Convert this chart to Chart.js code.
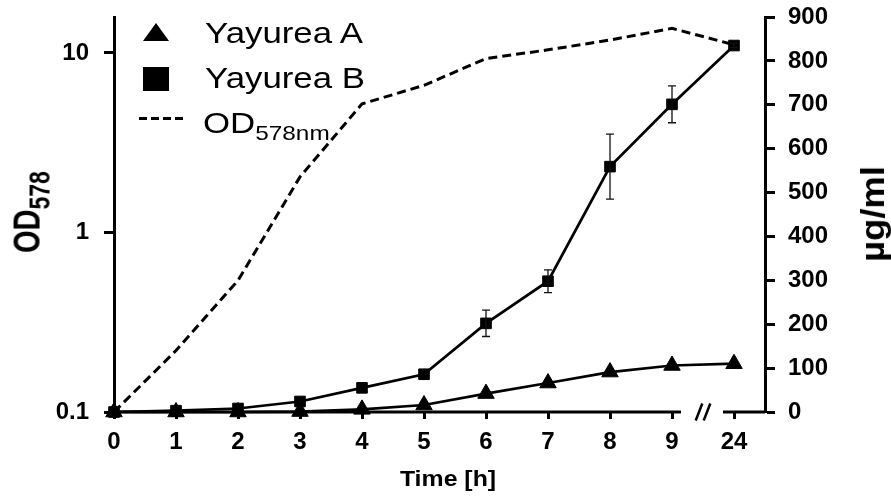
<!DOCTYPE html>
<html>
<head>
<meta charset="utf-8">
<script src="https://cdn.jsdelivr.net/npm/chart.js@4.4.1/dist/chart.umd.min.js"></script>
<style>
  html, body { margin: 0; padding: 0; background: #fff; }
  #wrap { position: relative; width: 891px; height: 497px; overflow: hidden; }
  #chart { position: absolute; left: 0; top: 0; }
  .ov { position: absolute; color: #000; font-family: "Liberation Sans", Arial, sans-serif; white-space: nowrap; line-height: 1; }
  .leg { font-size: 30px; transform: scaleX(1.16); transform-origin: left top; }
  .leg sub { font-size: 21px; vertical-align: -7px; line-height: 0; }
  .tri { position: absolute; width: 0; height: 0; border-left: 13.5px solid transparent; border-right: 13.5px solid transparent; border-bottom: 18px solid #000; }
  .sq { position: absolute; background: #000; }
  .dash { position: absolute; height: 3px; background: repeating-linear-gradient(to right, #000 0 8px, transparent 8px 12px); }
  .ttl { font-weight: bold; }
  .ttl sub { line-height: 0; }
</style>
</head>
<body>
<div id="wrap">
  <canvas id="chart" width="891" height="497"></canvas>

  <!-- legende -->
  <div class="tri" style="left:143px; top:23px;"></div>
  <div class="sq" style="left:143px; top:67px; width:26px; height:24px;"></div>
  <div class="dash" style="left:139px; top:117px; width:44px;"></div>
  <div class="ov leg" style="left:205px; top:18px;">Yayurea A</div>
  <div class="ov leg" style="left:205px; top:63px;">Yayurea B</div>
  <div class="ov leg" style="left:203px; top:108px;">OD<sub>578nm</sub></div>

  <!-- titres d'axes -->
  <div class="ov ttl" id="t-left" style="left:27px; top:212px; font-size:29px; transform: translate(-50%,-50%) rotate(-90deg) scaleY(1.3);">OD<sub style="font-size:23px; vertical-align:-8px;">578</sub></div>
  <div class="ov ttl" id="t-right" style="left:872px; top:214px; font-size:34px; transform: translate(-50%,-50%) rotate(-90deg) scaleX(1.07);">µg/ml</div>
  <div class="ov ttl" id="t-bottom" style="left:448px; top:468px; font-size:22px; transform: translateX(-50%) scaleX(1.13);">Time [h]</div>
</div>

<script>
// valeurs
const timeLabels = ["0", "1", "2", "3", "4", "5", "6", "7", "8", "9", "24"];
const yayureaA = [0, 0, 0, 1, 6, 16, 42, 66, 91, 106, 110];
const yayureaB = [0, 3, 8, 24, 55, 86, 202, 298, 559, 701, 835];
const yayureaBErr = [0, 0, 0, 0, 0, 0, 30, 26, 74, 42, 5];
const od578 = [0.1, 0.22, 0.54, 2.04, 5.2, 6.6, 9.3, 10.4, 11.8, 13.7, 11.1];
const odTicks = [0.1, 1, 10];
const ugTicks = [0, 100, 200, 300, 400, 500, 600, 700, 800, 900];

const FONT = "'Liberation Sans', Arial, sans-serif";

const toPoints = (arr) => arr.map((v, i) => ({ x: i, y: v }));

// barres d'erreur (pas natif dans Chart.js)
const errorBars = {
  id: "errorBars",
  afterDatasetsDraw(chart) {
    const ctx = chart.ctx;
    chart.data.datasets.forEach((ds, di) => {
      if (!ds.errors) return;
      const meta = chart.getDatasetMeta(di);
      const yScale = chart.scales[ds.yAxisID];
      ctx.save();
      ctx.strokeStyle = "#111";
      ctx.lineWidth = 1.3;
      meta.data.forEach((pt, i) => {
        const e = ds.errors[i];
        if (!e) return;
        const v = ds.data[i].y;
        const yTop = yScale.getPixelForValue(v + e);
        const yBot = yScale.getPixelForValue(v - e);
        ctx.beginPath();
        ctx.moveTo(pt.x, yTop);
        ctx.lineTo(pt.x, yBot);
        ctx.moveTo(pt.x - 4, yTop);
        ctx.lineTo(pt.x + 4, yTop);
        ctx.moveTo(pt.x - 4, yBot);
        ctx.lineTo(pt.x + 4, yBot);
        ctx.stroke();
      });
      ctx.restore();
    });
  },
};

// axe x coupé entre 9 et 24
const brokenAxis = {
  id: "brokenAxis",
  afterDraw(chart) {
    const ctx = chart.ctx;
    const x = chart.scales.x;
    const y = chart.chartArea.bottom;
    const c = x.getPixelForValue(9.5);
    ctx.save();
    ctx.strokeStyle = "#000";
    ctx.lineWidth = 3;
    ctx.lineCap = "butt";
    ctx.beginPath();
    ctx.moveTo(x.left, y);
    ctx.lineTo(c - 22, y);
    ctx.moveTo(c + 20, y);
    ctx.lineTo(x.right, y);
    ctx.stroke();
    ctx.lineWidth = 2.5;
    ctx.beginPath();
    [-4, 4].forEach((dx) => {
      ctx.moveTo(c + dx - 3.3, y + 8.5);
      ctx.lineTo(c + dx + 3.3, y - 8.5);
    });
    ctx.stroke();
    ctx.restore();
  },
};

const tickFont = { family: FONT, size: 24, weight: "bold" };

// largeur fixe des axes verticaux, sans marge auto en haut/bas
const fixVertical = (w) => (s) => {
  s.width = w;
  s.paddingTop = 0;
  s.paddingBottom = 0;
};

new Chart(document.getElementById("chart"), {
  type: "line",
  data: {
    datasets: [
      {
        label: "Yayurea B",
        data: toPoints(yayureaB),
        errors: yayureaBErr,
        yAxisID: "yUg",
        borderColor: "#000",
        backgroundColor: "#000",
        borderWidth: 2.7,
        pointStyle: "rect",
        pointRadius: 7.5,
        pointBorderWidth: 1,
        tension: 0,
        clip: false,
      },
      {
        label: "Yayurea A",
        data: toPoints(yayureaA),
        yAxisID: "yUg",
        borderColor: "#000",
        backgroundColor: "#000",
        borderWidth: 2.7,
        pointStyle: "triangle",
        pointRadius: 9.5,
        pointBorderWidth: 1,
        tension: 0,
        clip: false,
      },
      {
        label: "OD578nm",
        data: toPoints(od578),
        yAxisID: "yOD",
        borderColor: "#000",
        borderWidth: 3,
        borderDash: [9, 5],
        pointRadius: 0,
        tension: 0,
        clip: false,
      },
    ],
  },
  options: {
    responsive: false,
    animation: false,
    events: [],
    layout: { padding: { top: 17, left: 0, right: 0, bottom: 0 } },
    plugins: {
      legend: { display: false },
      tooltip: { enabled: false },
    },
    scales: {
      x: {
        type: "linear",
        min: 0,
        max: 10.5,
        afterFit: (s) => {
          s.height = 85;
          s.paddingLeft = 0;
          s.paddingRight = 0;
        },
        border: { display: false },
        grid: {
          drawOnChartArea: false,
          drawTicks: true,
          tickLength: 7,
          tickWidth: 3,
          tickColor: "#000",
        },
        ticks: {
          stepSize: 1,
          includeBounds: false,
          autoSkip: false,
          maxRotation: 0,
          padding: 9,
          color: "#000",
          font: tickFont,
          callback: (v) => timeLabels[v] ?? "",
        },
      },
      yOD: {
        type: "logarithmic",
        position: "left",
        min: 0.1,
        max: 15.85,
        afterFit: fixVertical(114),
        afterBuildTicks: (s) => { s.ticks = odTicks.map((v) => ({ value: v })); },
        border: { display: true, color: "#000", width: 3 },
        grid: {
          drawOnChartArea: false,
          tickLength: 10,
          tickWidth: 3,
          tickColor: "#000",
        },
        ticks: {
          padding: 15,
          color: "#000",
          font: tickFont,
          callback: (v) => String(v),
        },
      },
      yUg: {
        type: "linear",
        position: "right",
        min: 0,
        max: 900,
        afterFit: fixVertical(126),
        afterBuildTicks: (s) => { s.ticks = ugTicks.map((v) => ({ value: v })); },
        border: { display: true, color: "#000", width: 3 },
        grid: {
          drawOnChartArea: false,
          tickLength: 10,
          tickWidth: 3,
          tickColor: "#000",
        },
        ticks: {
          padding: 13,
          color: "#000",
          font: tickFont,
        },
      },
    },
  },
  plugins: [errorBars, brokenAxis],
});
</script>
</body>
</html>
